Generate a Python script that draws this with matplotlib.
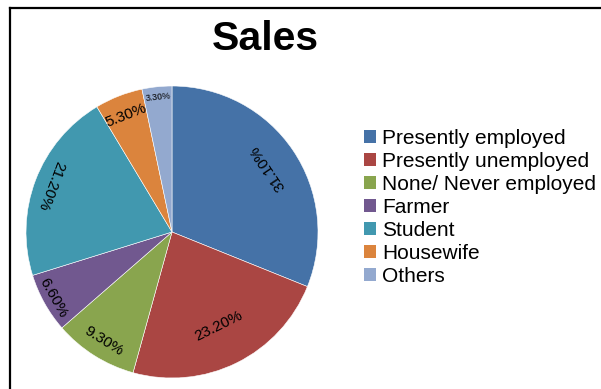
import matplotlib
matplotlib.use("Agg")
import matplotlib.pyplot as plt
import numpy as np
from matplotlib.patches import Patch
from matplotlib.lines import Line2D

categories = ["Presently employed", "Presently unemployed", "None/ Never employed",
              "Farmer", "Student", "Housewife", "Others"]
values = [31.1, 23.2, 9.3, 6.6, 21.2, 5.3, 3.3]
labels = ["31.10%", "23.20%", "9.30%", "6.60%", "21.20%", "5.30%", "3.30%"]
colors = ["#4572A7", "#AA4643", "#89A54E", "#71588F", "#4198AF", "#DB843D", "#93A9CF"]
label_r = [0.79, 0.72, 0.88, 0.93, 0.89, 0.86, 0.93]
label_size = [11, 11, 11, 11, 11, 11, 6.5]

plt.rcParams['font.family'] = ['Liberation Sans', 'DejaVu Sans']

W, H = 601, 389
fig = plt.figure(figsize=(W / 100, H / 100), dpi=100)
fig.patch.set_facecolor("white")

cx, cy, R = 172, 232, 146
ax = fig.add_axes([(cx - R) / W, (H - cy - R) / H, 2 * R / W, 2 * R / H])
wedges, _ = ax.pie(values, colors=colors, startangle=90, counterclock=False,
                   radius=1, wedgeprops=dict(edgecolor="white", linewidth=0.4))
ax.set_xlim(-1, 1)
ax.set_ylim(-1, 1)
ax.set_aspect("equal")
ax.axis("off")

for w, lab, r, fs in zip(wedges, labels, label_r, label_size):
    mid = (w.theta1 + w.theta2) / 2
    x = r * np.cos(np.radians(mid))
    y = r * np.sin(np.radians(mid))
    rot = (mid + 90 + 180) % 360 - 180
    if abs(rot) > 150:
        rot = rot + 180 if rot < 0 else rot - 180
    ax.text(x, y, lab, rotation=rot, rotation_mode="anchor", ha="center", va="center",
            fontsize=fs, color="black")

fig.text(265 / W, 1 - 39 / H, "Sales", ha="center", va="center", fontsize=29.5,
         fontweight="bold")

handles = [Patch(facecolor=c, edgecolor="none") for c in colors]
leg = fig.legend(handles, categories, loc="upper left",
                 bbox_to_anchor=(364 / W, 1 - 129 / H), frameon=False,
                 fontsize=15, handlelength=0.58, handleheight=0.58,
                 handletextpad=0.29, labelspacing=0.19, borderpad=0, borderaxespad=0)

# outer frame (partially cut)
fig.add_artist(Line2D([10 / W, 10 / W], [0, 1 - 8 / H], transform=fig.transFigure,
                      color="black", linewidth=1.6))
fig.add_artist(Line2D([10 / W, 1], [1 - 8 / H, 1 - 8 / H], transform=fig.transFigure,
                      color="black", linewidth=1.6))

fig.savefig("out.png", dpi=100)
